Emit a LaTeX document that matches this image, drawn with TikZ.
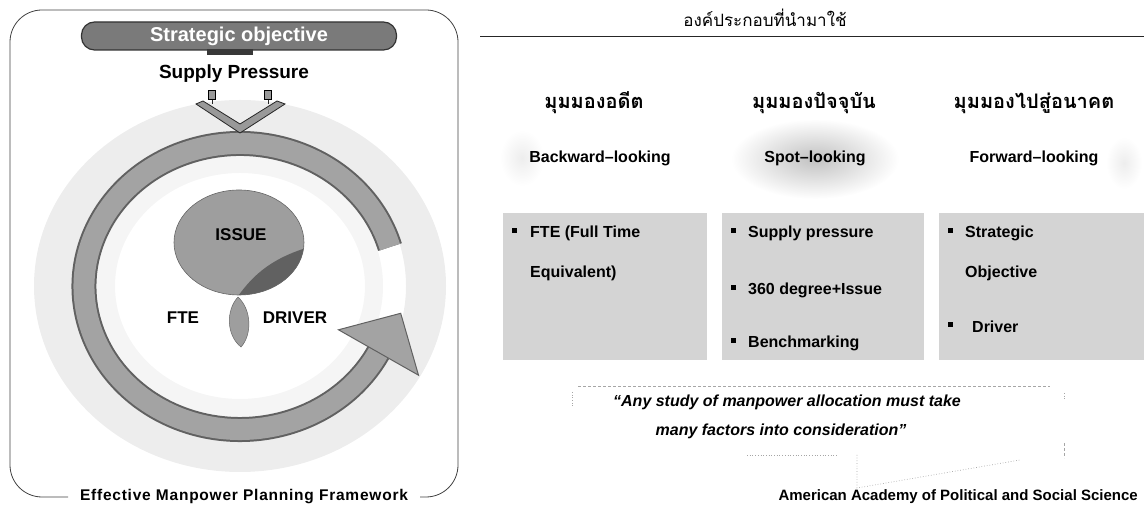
\documentclass[tikz,border=0pt]{standalone}
\usepackage{fontspec}
\setmainfont{Liberation Sans}
\newfontfamily\thaifont[Script=Thai]{Loma}
\usetikzlibrary{calc}

\tikzset{
  boldtxt/.style={font=\bfseries\fontsize{#1}{#1}\selectfont, inner sep=0pt},
  thaitxt/.style={font=\thaifont\fontsize{#1}{#1}\selectfont, inner sep=0pt},
  thaibold/.style={font=\thaifont\bfseries\fontsize{#1}{#1}\selectfont, inner sep=0pt},
  stipplebox/.style={fill=black!17, draw=none},
  bulletsq/.style={fill=black, minimum size=5pt, inner sep=0pt},
  ringedge/.style={line width=25pt, draw=black!62},
  ringbody/.style={line width=21pt, draw=black!36},
  faintline/.style={draw=gray!70, line width=0.7pt, densely dashed},
  dotline/.style={draw=gray!70, line width=0.7pt, dotted},
}

\begin{document}
\begin{tikzpicture}[x=1pt,y=1pt]
\useasboundingbox (0,0) rectangle (1144,510);

% ---------------- left panel: planning framework ----------------
% outer frame, open at the bottom for the caption
\draw[black!75, line width=0.8pt, rounded corners=32pt]
  (68,13) -- (10,13) -- (10,500) -- (458,500) -- (458,13) -- (420,13);
\node[inner sep=0pt, font=\bfseries\fontsize{15.5}{15.5}\selectfont\addfontfeatures{LetterSpace=5}]
  (caption) at (244,13) {Effective Manpower Planning Framework};

% soft halo around the cycle
\fill[black!7, even odd rule] (240,224) ellipse[x radius=206, y radius=186]
                               (240,224) ellipse[x radius=166, y radius=153];
\fill[black!4, even odd rule] (240,224) ellipse[x radius=143, y radius=131]
                               (240,224) ellipse[x radius=125, y radius=113];

% cycle ring
\draw[ringedge] (389.96,262.92) arc[start angle=16, end angle=332.5, x radius=156, y radius=143];
\draw[ringbody] (389.96,262.92) arc[start angle=16, end angle=332.5, x radius=156, y radius=143];
\coordinate (ringend) at (378.4,157.5);
\filldraw[fill=black!36, draw=black!62, line width=1pt, line join=miter]
  (418.5,134.8) -- (400.7,196.7) -- (338.5,180.2) -- cycle;

% strategic objective banner
\node[draw=black!80, line width=1.2pt, fill=black!52, rounded corners=13pt,
      minimum width=315pt, minimum height=28pt, inner sep=0pt] (banner) at (239,474) {};
\fill[black!78] (207,461) rectangle (253,455);
\node[boldtxt=20, text=white] (strat) at (239,474) {Strategic objective};

\node[boldtxt=19] (supply) at (234,436) {Supply Pressure};

% chevron with two markers
\node[draw=black, fill=black!40, minimum width=7pt, minimum height=9pt, inner sep=0pt] (sqL) at (212,415) {};
\node[draw=black, fill=black!40, minimum width=7pt, minimum height=9pt, inner sep=0pt] (sqR) at (268,415) {};
\filldraw[fill=black!40, draw=black!85, line width=0.8pt]
  (196,406) -- (240,377) -- (285,406) -- (277,409) -- (240,386) -- (203,409) -- cycle;
\draw[black!85, line width=0.8pt] (sqL.south) -- ++(0,-4);
\draw[black!85, line width=0.8pt] (sqR.south) -- ++(0,-4);

% issue sphere
\fill[black!38] (239,267.5) ellipse[x radius=65, y radius=52.5];
\begin{scope}
  \clip (239,267.5) ellipse[x radius=65, y radius=52.5];
  \fill[black!62] (306,262) .. controls (268,250) and (250,232) .. (234,208) -- (320,208) -- cycle;
\end{scope}
\draw[black!60, line width=0.6pt] (239,267.5) ellipse[x radius=65, y radius=52.5];
\node[boldtxt=17] (issue) at (241,275) {ISSUE};

% leaf below the sphere
\filldraw[fill=black!38, draw=black!60, line width=0.5pt]
  (238,213) .. controls (252,200) and (252,175) .. (241,163)
            .. controls (226,175) and (226,200) .. (238,213);
\node[boldtxt=17] (fte) at (183,192) {FTE};
\node[boldtxt=17] (driver) at (295,192) {DRIVER};

% ---------------- right panel: components ----------------
\node[thaitxt=17] (title) at (765,492) {องค์ประกอบที่นำมาใช้};
\coordinate (ruleL) at (480,473);
\coordinate (ruleR) at (1144,473);
\draw[black!85, line width=1pt] (ruleL) -- (ruleR);

\node[thaibold=20] (h1) at (594,407) {มุมมองอดีต};
\node[thaibold=20] (h2) at (814,407) {มุมมองปัจจุบัน};
\node[thaibold=20] (h3) at (1034,407) {มุมมองไปสู่อนาคต};

% soft patches behind the sub headings
\shade[inner color=black!24, outer color=white] (815,351) ellipse[x radius=84, y radius=40];
\shade[inner color=black!7, outer color=white] (522,352) ellipse[x radius=22, y radius=28];
\shade[inner color=black!7, outer color=white] (1124,347) ellipse[x radius=18, y radius=26];

\node[boldtxt=16] (s1) at (600,352) {Backward–looking};
\node[boldtxt=16] (s2) at (815,352) {Spot–looking};
\node[boldtxt=16] (s3) at (1034,352) {Forward–looking};

% three stippled boxes
\fill[stipplebox] (503,297) rectangle (707,150);
\fill[stipplebox] (722,297) rectangle (924,150);
\fill[stipplebox] (939,297) rectangle (1144,150);

\node[bulletsq] (b11) at (514,279) {};
\node[boldtxt=16, anchor=west] (t11) at (530,277) {FTE (Full Time};
\node[boldtxt=16, anchor=west] (t12) at (530,237) {Equivalent)};

\node[bulletsq] (b21) at (733,279) {};
\node[boldtxt=16, anchor=west] (t21) at (748,277) {Supply pressure};
\node[bulletsq] (b22) at (733,222) {};
\node[boldtxt=16, anchor=west] (t22) at (748,220) {360 degree+Issue};
\node[bulletsq] (b23) at (733,169) {};
\node[boldtxt=16, anchor=west] (t23) at (748,167) {Benchmarking};

\node[bulletsq] (b31) at (950,279) {};
\node[boldtxt=16, anchor=west] (t31) at (965,277) {Strategic};
\node[boldtxt=16, anchor=west] (t32) at (965,237) {Objective};
\node[bulletsq] (b32) at (950,185) {};
\node[boldtxt=16, anchor=west] (t33) at (972,183) {Driver};

% quotation with callout outline
\coordinate (qTL) at (578,124);
\coordinate (qTR) at (1050,124);
\coordinate (qLa) at (572,118);
\coordinate (qLb) at (572,104);
\coordinate (qRa) at (1064,117);
\coordinate (qRb) at (1064,110);
\coordinate (qBa) at (747,55);
\coordinate (qBb) at (837,55);
\coordinate (qPa) at (857,55);
\coordinate (qPb) at (857,22);
\coordinate (qPc) at (1020,50);
\coordinate (qRc) at (1064,67);
\coordinate (qRd) at (1064,52);
\draw[faintline] (qTL) -- (qTR);
\draw[dotline] (qLa) -- (qLb);
\draw[dotline] (qRa) -- (qRb);
\draw[dotline] (qBa) -- (qBb);
\draw[dotline] (qPa) -- (qPb) -- (qPc);
\draw[faintline] (qRc) -- (qRd);

\node[font=\bfseries\itshape\fontsize{16}{16}\selectfont, inner sep=0pt] (q1) at (787,108)
  {“Any study of manpower allocation must take};
\node[font=\bfseries\itshape\fontsize{16}{16}\selectfont, inner sep=0pt] (q2) at (781,79)
  {many factors into consideration”};

\node[boldtxt=15, anchor=east] (source) at (1138,13) {American Academy of Political and Social Science};

\end{tikzpicture}
\end{document}
